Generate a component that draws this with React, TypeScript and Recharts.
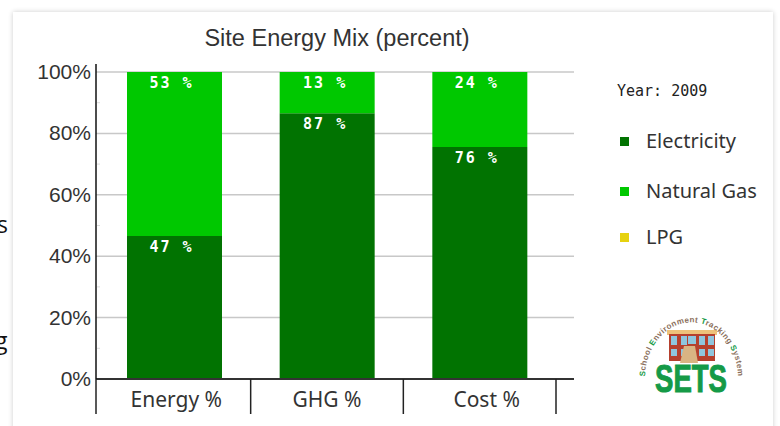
import React from 'react';
import {BarChart, Bar, XAxis, YAxis, CartesianGrid, Legend, LabelList} from 'recharts';

// ── Data ────────────────────────────────────────────────────

const CATEGORIES = ['Energy %', 'GHG %', 'Cost %'];
const ELECTRICITY = [46.6, 86.6, 75.6];
const NATURAL_GAS = [53.4, 13.4, 24.4];
const LPG = [0, 0, 0];
const Y_TICKS = [0, 10, 20, 30, 40, 50, 60, 70, 80, 90, 100];
const Y_GRID = [20, 40, 60, 80, 100];

const chartData = CATEGORIES.map((name, i) => ({
  name,
  Electricity: ELECTRICITY[i],
  'Natural Gas': NATURAL_GAS[i],
  LPG: LPG[i],
}));

// ── Constants ───────────────────────────────────────────────

const COLOR_ELECTRICITY = '#017301';
const COLOR_GAS = '#00c800';
const COLOR_LPG = '#e6d210';
const TEXT = '#333333';
const SANS = '"Liberation Sans", Arial, sans-serif';
const LABEL_FONT = '"Noto Sans", sans-serif';
const MONO = '"DejaVu Sans Mono", monospace';

const PLOT_WIDTH = 478;
const X_PAD_LEFT = 2;
const X_PAD_RIGHT = 18;
const BAND = (PLOT_WIDTH - X_PAD_LEFT - X_PAD_RIGHT) / CATEGORIES.length;
const X_DIVIDER = 35;
const X_LABEL_NUDGE = [2, 0, 7];
const LABEL_NUDGE = [-3, -2, -3];

// ── Axis ticks ──────────────────────────────────────────────

function CategoryTick({x, y, payload, index}: any) {
  const right = x + BAND / 2;
  const left = x - BAND / 2 - X_PAD_LEFT;
  return (
    <g>
      {index === 0 && <line x1={left} x2={left} y1={y} y2={y + X_DIVIDER} stroke="#222" strokeWidth={1.5} />}
      <line x1={right} x2={right} y1={y} y2={y + X_DIVIDER} stroke="#222" strokeWidth={1.5} />
      <text x={x + X_LABEL_NUDGE[index]} y={y + 28} textAnchor="middle" fontFamily={LABEL_FONT} fontSize={21} fill={TEXT}>
        {payload.value}
      </text>
    </g>
  );
}

function PercentTick({x, y, payload}: any) {
  if (payload.value % 20 !== 0) {
    return <line x1={x + 6} x2={x + 9} y1={y} y2={y} stroke="#dddddd" strokeWidth={1} />;
  }
  return (
    <g>
      {payload.value === 100 && <line x1={x + 5} x2={x + 5} y1={y} y2={y - 8} stroke="#111" strokeWidth={1.5} />}
      <text x={x} y={y + 7} textAnchor="end" fontFamily={SANS} fontSize={21} fill={TEXT}>
        {payload.value}%
      </text>
    </g>
  );
}

// ── Bar labels ──────────────────────────────────────────────

function ShareLabel({x, y, width, value, index}: any) {
  if (!value) return null;
  return (
    <text
      x={x + width / 2 + LABEL_NUDGE[index]}
      y={y + 16}
      textAnchor="middle"
      fontFamily={MONO}
      fontWeight={700}
      fontSize={15}
      letterSpacing={2}
      fill="#ffffff"
    >
      {Math.round(value)} %
    </text>
  );
}

// ── Legend ──────────────────────────────────────────────────

const LEGEND_ROW_TOPS = [0, 50, 96];

function SideLegend({payload}: any) {
  return (
    <div style={{position: 'relative', height: 130}}>
      {(payload ?? []).map((entry: any, i: number) => (
        <div key={entry.value} style={{position: 'absolute', left: 0, top: LEGEND_ROW_TOPS[i], height: 28, width: 150}}>
          <span
            style={{position: 'absolute', left: 0, top: 10, width: 9, height: 9, background: entry.color}}
          />
          <span
            style={{
              position: 'absolute',
              left: 26,
              top: 0,
              fontFamily: LABEL_FONT,
              fontSize: 20,
              lineHeight: '28px',
              color: TEXT,
              whiteSpace: 'nowrap',
            }}
          >
            {entry.value}
          </span>
        </div>
      ))}
    </div>
  );
}

// ── Logo ────────────────────────────────────────────────────

function SetsLogo() {
  const columns = [671, 681, 699, 708];
  const cap = '#159a47';
  return (
    <svg width={780} height={426} style={{position: 'absolute', left: 0, top: 0, pointerEvents: 'none'}}>
      <defs>
        <path id="sets-arc" d="M 645 378 A 46 55 0 1 1 738 378" fill="none" />
      </defs>
      <rect x={667} y={330} width={50} height={5} fill="#eec27a" />
      <rect x={669} y={334} width={46} height={27} fill="#b5402e" />
      {columns.map((wx) => (
        <g key={wx}>
          <rect x={wx} y={336} width={6} height={9} fill="#8fc6de" />
          <rect x={wx} y={349} width={6} height={7} fill="#8fc6de" />
        </g>
      ))}
      <rect x={688} y={336} width={8} height={8} fill="#8fc6de" />
      <path d="M 684 346 H 695 L 698 363 H 680 Z" fill="#d9b483" />
      <text
        x={691}
        y={392}
        textAnchor="middle"
        textLength={72}
        lengthAdjust="spacingAndGlyphs"
        fontFamily={SANS}
        fontWeight={700}
        fontSize={38}
        stroke="#159a47"
        strokeWidth={1}
        fill="#159a47"
      >
        SETS
      </text>
      <text fontFamily={SANS} fontWeight={700} fontSize={8} fill="#8b6f5c" letterSpacing={0.4}>
        <textPath href="#sets-arc" startOffset="50%" textAnchor="middle">
          <tspan fill={cap}>S</tspan>chool <tspan fill={cap}>E</tspan>nvironment <tspan fill={cap}>T</tspan>racking <tspan fill={cap}>S</tspan>ystem
        </textPath>
      </text>
    </svg>
  );
}

// ── App ─────────────────────────────────────────────────────

export default function App() {
  return (
    <div style={{position: 'fixed', left: 0, top: 0, width: 780, height: 426, overflow: 'hidden', background: '#ffffff'}}>
      <div style={{position: 'absolute', left: 13, top: 12, width: 760, height: 430, boxShadow: '0 0 5px rgba(0,0,0,0.2)'}} />
      <span style={{position: 'absolute', left: -3, top: 208, fontFamily: '"Open Sans", sans-serif', fontSize: 23, color: '#111'}}>s</span>
      <span style={{position: 'absolute', left: -5, top: 324, fontFamily: '"Open Sans", sans-serif', fontSize: 23, color: '#111'}}>g</span>

      <div style={{position: 'absolute', left: 0, top: 0}}>
        <BarChart width={780} height={426} data={chartData} margin={{top: 72, right: 206, bottom: 0, left: 26}} barSize={95}>
          <CartesianGrid horizontal vertical={false} horizontalValues={Y_GRID} stroke="#c8c8c8" strokeWidth={1.5} />
          <XAxis
            dataKey="name"
            height={47}
            interval={0}
            padding={{left: X_PAD_LEFT, right: X_PAD_RIGHT}}
            axisLine={{stroke: '#333', strokeWidth: 2}}
            tickLine={false}
            tickSize={0}
            tickMargin={0}
            tick={<CategoryTick />}
          />
          <YAxis
            width={70}
            domain={[0, 100]}
            ticks={Y_TICKS}
            interval={0}
            axisLine={{stroke: '#111', strokeWidth: 1.5}}
            tickLine={false}
            tickSize={0}
            tickMargin={5}
            tick={<PercentTick />}
          />
          <Legend
            layout="horizontal"
            verticalAlign="middle"
            align="center"
            itemSorter={null}
            wrapperStyle={{position: 'absolute', left: 620, top: 127, width: 150, height: 130, bottom: 'auto', right: 'auto'}}
            content={<SideLegend />}
          />
          <Bar dataKey="Electricity" stackId="mix" fill={COLOR_ELECTRICITY} isAnimationActive={false}>
            <LabelList dataKey="Electricity" content={<ShareLabel />} />
          </Bar>
          <Bar dataKey="Natural Gas" stackId="mix" fill={COLOR_GAS} isAnimationActive={false}>
            <LabelList dataKey="Natural Gas" content={<ShareLabel />} />
          </Bar>
          <Bar dataKey="LPG" stackId="mix" fill={COLOR_LPG} isAnimationActive={false} />
        </BarChart>
      </div>

      <div style={{position: 'absolute', left: 187, top: 24, width: 300, textAlign: 'center', fontFamily: SANS, fontSize: 23.5, lineHeight: '28px', color: TEXT, whiteSpace: 'nowrap'}}>
        Site Energy Mix (percent)
      </div>
      <div style={{position: 'absolute', left: 617, top: 82, fontFamily: MONO, fontSize: 15, lineHeight: '18px', color: '#222', whiteSpace: 'nowrap'}}>
        Year: 2009
      </div>
      <SetsLogo />
    </div>
  );
}
